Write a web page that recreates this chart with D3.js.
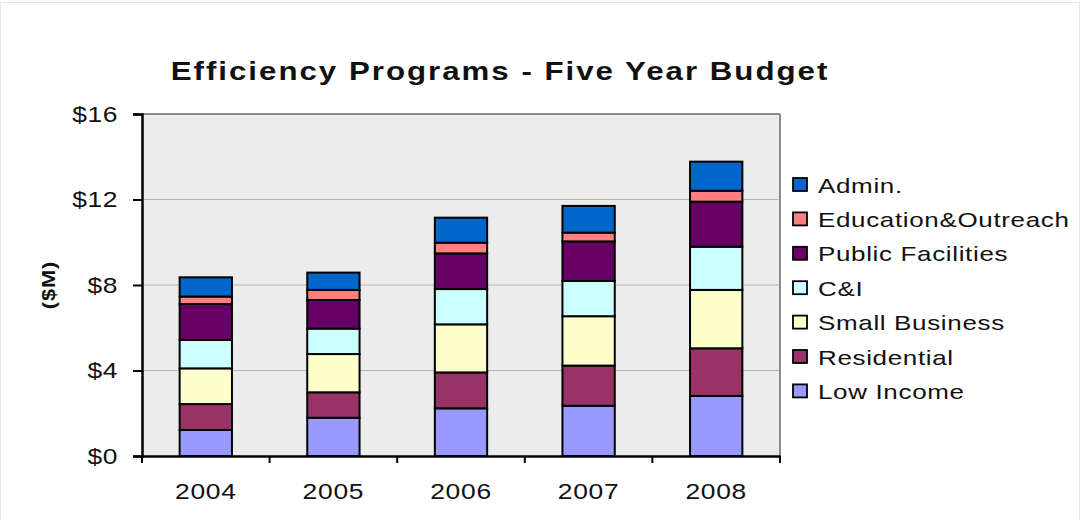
<!DOCTYPE html>
<html><head><meta charset="utf-8">
<script src="https://cdn.jsdelivr.net/npm/d3@7"></script>
<style>body{margin:0;background:#fff;font-family:"Liberation Sans",Arial,sans-serif;}</style>
</head><body><svg id="c" width="1080" height="520"></svg>
<script>
const years = ["2004","2005","2006","2007","2008"];
const seriesNames = ["Low Income","Residential","Small Business","C&I","Public Facilities","Education&Outreach","Admin."];
const lowIncome     = [1.22,1.79,2.23,2.35,2.81];
const residential   = [1.21,1.19,1.68,1.88,2.23];
const smallBusiness = [1.67,1.79,2.25,2.31,2.73];
const cAndI         = [1.33,1.19,1.65,1.65,2.02];
const publicFac     = [1.68,1.34,1.67,1.85,2.11];
const education     = [0.35,0.47,0.50,0.41,0.51];
const admin         = [0.90,0.81,1.17,1.25,1.36];
const yTicks = [0,4,8,12,16];
const colors = ["#9999ff","#993366","#ffffcc","#ccffff","#660066","#ff8080","#0066cc"];

const allSeries = [lowIncome,residential,smallBusiness,cAndI,publicFac,education,admin];
const rows = years.map((y,i)=>{const r={year:y}; seriesNames.forEach((n,k)=>r[n]=allSeries[k][i]); return r;});
const stacked = d3.stack().keys(seriesNames)(rows);

const svg = d3.select("#c");
const L=142, R=780, T=114, B=456;
const x = d3.scaleBand().domain(years).range([L,R]).paddingInner(0.59).paddingOuter(0.295);
const y = d3.scaleLinear().domain([0,16]).range([B,T]);
const FONT = "Liberation Sans, Arial, sans-serif";

svg.append("rect").attr("x",0.5).attr("y",2.5).attr("width",1079).attr("height",530).attr("fill","none").attr("stroke","#e6e6e6");

// plot bg
svg.append("rect").attr("x",L).attr("y",T).attr("width",R-L).attr("height",B-T).attr("fill","#ececec");
// grid
svg.append("g").selectAll("line").data(yTicks.slice(1,-1)).join("line")
  .attr("x1",L).attr("x2",R).attr("y1",d=>y(d)).attr("y2",d=>y(d)).attr("stroke","#b4b4b4").attr("stroke-width",1.2);
svg.append("line").attr("x1",L).attr("x2",R).attr("y1",T).attr("y2",T).attr("stroke","#8c8c8c").attr("stroke-width",2);
svg.append("line").attr("x1",R).attr("x2",R).attr("y1",T).attr("y2",B).attr("stroke","#8c8c8c").attr("stroke-width",2);

// bars
svg.append("g").selectAll("g").data(stacked).join("g").attr("fill",(d,i)=>colors[i])
  .selectAll("rect").data(d=>d).join("rect")
  .attr("x",d=>x(d.data.year)).attr("width",x.bandwidth())
  .attr("y",d=>y(d[1])).attr("height",d=>y(d[0])-y(d[1]))
  .attr("stroke","#000").attr("stroke-width",2);

// y axis
const SY = 1.2;
const ya = svg.append("g").attr("transform",`translate(${L},0)`)
  .call(d3.axisLeft(y).tickValues(yTicks).tickFormat(d=>"$"+d).tickSize(9).tickPadding(15));
ya.select(".domain").attr("stroke","#000").attr("stroke-width",2.5);
ya.selectAll(".tick line").attr("stroke","#000").attr("stroke-width",2);
ya.selectAll("text").attr("font-family",FONT).attr("font-size",22).attr("fill","#111")
  .attr("letter-spacing",0.5).attr("x",-24/SY).attr("transform",`scale(${SY},1)`);

// x axis
const xa = svg.append("g").attr("transform",`translate(0,${B})`)
  .call(d3.axisBottom(x).tickSize(0).tickPadding(27));
xa.select(".domain").attr("stroke","#000").attr("stroke-width",2.5);
xa.selectAll(".tick text").attr("font-family",FONT).attr("font-size",22).attr("fill","#111")
  .attr("letter-spacing",0.6).attr("transform",`scale(${SY},1)`);
// category separator ticks
xa.append("g").selectAll("line").data(d3.range(6)).join("line")
  .attr("x1",d=>L+d*(R-L)/5).attr("x2",d=>L+d*(R-L)/5).attr("y1",0).attr("y2",7)
  .attr("stroke","#000").attr("stroke-width",2);

// title
svg.append("text").attr("transform","translate(500,80) scale(1.25,1)").attr("text-anchor","middle")
  .attr("font-family",FONT).attr("font-weight","bold").attr("font-size",25)
  .attr("letter-spacing",1.6).attr("fill","#111").text("Efficiency Programs - Five Year Budget");
// y label
svg.append("text").attr("transform","translate(55,285) rotate(-90) scale(1.15,1)").attr("text-anchor","middle")
  .attr("font-family",FONT).attr("font-weight","bold").attr("font-size",19).attr("letter-spacing",0.8)
  .attr("fill","#111").text("($M)");

// legend
const legendOrder = seriesNames.slice().reverse();
const lg = svg.append("g").selectAll("g").data(legendOrder).join("g")
  .attr("transform",(d,i)=>`translate(793,${185+i*34.4})`);
lg.append("rect").attr("x",0).attr("y",-7).attr("width",14).attr("height",13)
  .attr("fill",d=>colors[seriesNames.indexOf(d)]).attr("stroke","#000").attr("stroke-width",1.8);
lg.append("text").attr("transform","translate(25,7.5) scale(1.3,1)").attr("font-family",FONT).attr("font-size",20)
  .attr("letter-spacing",0.5).attr("fill","#111").text(d=>d);
</script></body></html>
